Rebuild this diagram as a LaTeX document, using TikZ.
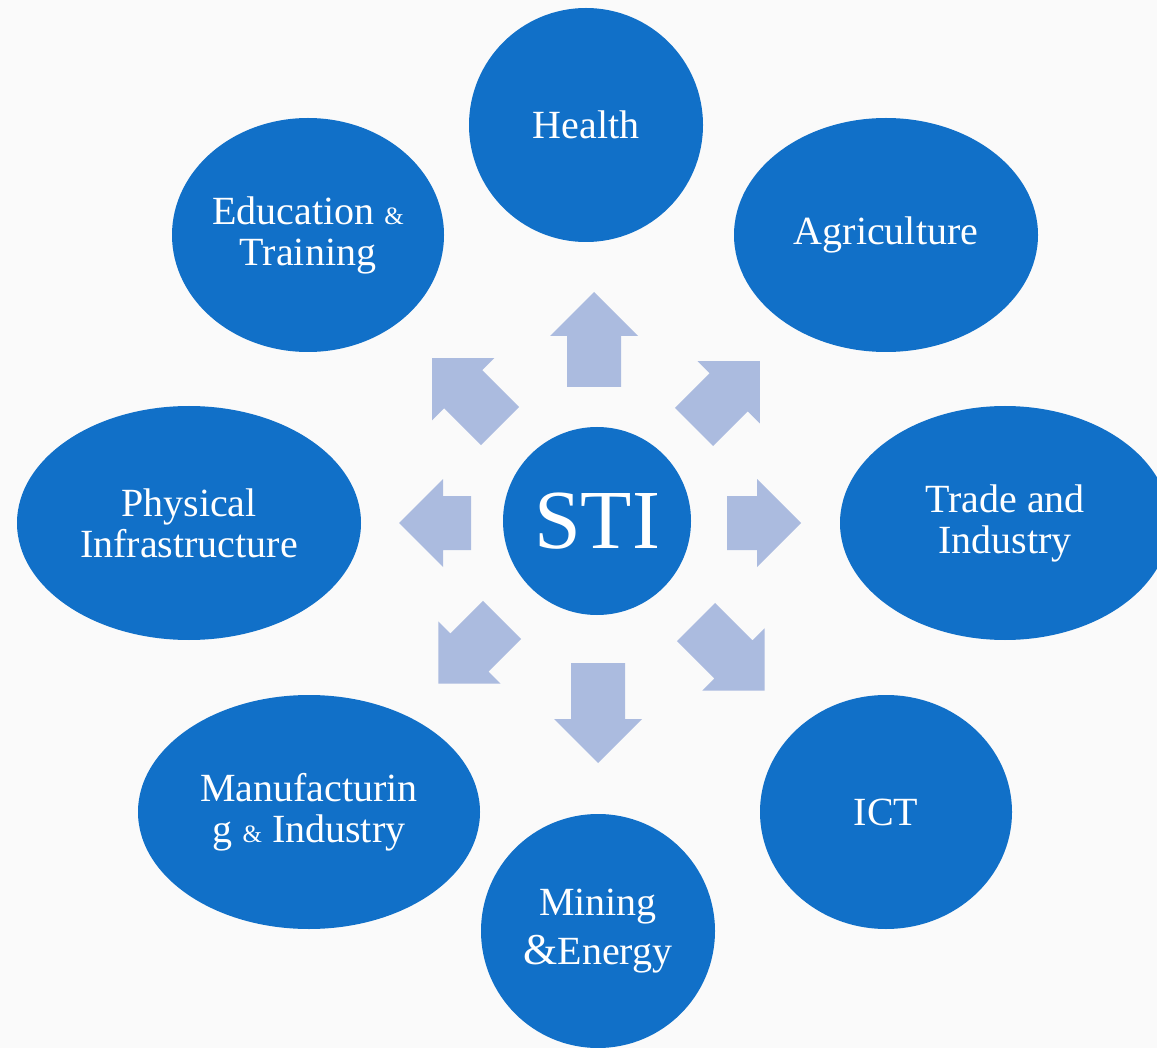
\documentclass[tikz,border=0pt]{standalone}
\usepackage{fontspec}
\setmainfont{Liberation Serif}
\usetikzlibrary{shapes.geometric}
\definecolor{sectorblue}{HTML}{1170C8}
\definecolor{arrowblue}{HTML}{ABBBDF}
\definecolor{paper}{HTML}{FAFAFA}
\newcommand{\smallamp}{{\fontsize{25}{25}\selectfont\&}}
\tikzset{
  sector/.style={
    ellipse,
    fill=sectorblue,
    text=white,
    inner sep=0pt,
    align=center,
    minimum height=234pt,
    minimum width={#1pt},
    font=\fontsize{40}{41}\selectfont,
  },
  hub/.style={
    circle,
    fill=sectorblue,
    text=white,
    inner sep=0pt,
    minimum size=188pt,
    font=\fontsize{84}{90}\selectfont,
  },
  pics/spoke/.style={
    code={\fill[arrowblue] (0,-27) -- (#1-44,-27) -- (#1-44,-44) -- (#1,0)
      -- (#1-44,44) -- (#1-44,27) -- (0,27) -- cycle;}
  }
}

\begin{document}
\begin{tikzpicture}[x=1pt,y=-1pt]
        \fill[paper] (0,0) rectangle (1157,1048);
        \useasboundingbox (0,0) rectangle (1157,1048);
        \clip (0,0) rectangle (1157,1048);

        \node [hub] (sti) at (597,521) {STI};
        \node [sector=234] (health) at (586,125) {Health};
        \node [sector=304] (agri) at (886,235) {Agriculture};
        \node [sector=272] (edu) at (308,235) {Education \smallamp\\Training};
        \node [sector=344] (phys) at (189,523) {Physical\\Infrastructure};
        \node [sector=330] (trade) at (1005,523) {Trade and\\Industry};
        \node [sector=342] (manu) at (309,812) {Manufacturin\\g \smallamp{} Industry};
        \node [sector=252] (ict) at (886,812) {ICT};
        \node [sector=234] (mining) at (598,931) {Mining\\[8pt]{\fontsize{44}{41}\selectfont\&}Energy};

        \pic [rotate=90] at (594,387) {spoke=95};
        \pic [rotate=-90] at (598,663) {spoke=100};
        \pic [rotate=0] at (727,523) {spoke=74};
        \pic [rotate=180] at (471,523) {spoke=72};
        \pic [rotate=45] at (694,427) {spoke=93};
        \pic [rotate=135] at (500,426) {spoke=96};
        \pic [rotate=225] at (502,620) {spoke=90};
        \pic [rotate=-45] at (696,622) {spoke=97};
\end{tikzpicture}
\end{document}
